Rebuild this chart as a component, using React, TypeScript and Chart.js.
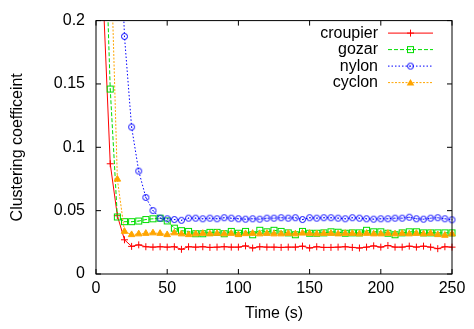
import React, { useEffect, useRef } from 'react';
import { Chart, registerables } from 'chart.js';

Chart.register(...registerables);

// ---- data ----
const timeSec = [
  0, 5, 10, 15, 20, 25, 30, 35, 40, 45, 50, 55, 60, 65, 70, 75, 80, 85, 90, 95,
  100, 105, 110, 115, 120, 125, 130, 135, 140, 145, 150, 155, 160, 165, 170, 175, 180, 185, 190, 195,
  200, 205, 210, 215, 220, 225, 230, 235, 240, 245, 250,
];

const croupier = [
  0.6, 0.22, 0.087, 0.046, 0.027, 0.0218, 0.023, 0.0215, 0.0212, 0.0215, 0.0212, 0.0215, 0.0195, 0.0215, 0.0212, 0.0215, 0.021, 0.0212, 0.0215, 0.0212,
  0.0212, 0.0222, 0.0205, 0.0215, 0.0212, 0.0212, 0.021, 0.0212, 0.0212, 0.022, 0.0205, 0.0215, 0.021, 0.021, 0.0212, 0.0215, 0.021, 0.0205, 0.0212, 0.0222,
  0.0212, 0.0225, 0.0212, 0.0212, 0.022, 0.0212, 0.022, 0.0212, 0.02, 0.0215, 0.0212,
];

const gozar = [
  0.8, 0.32, 0.146, 0.045, 0.0413, 0.0413, 0.0418, 0.043, 0.0436, 0.0441, 0.0419, 0.0362, 0.0342, 0.0336, 0.0318, 0.0318, 0.0329, 0.0329, 0.0318, 0.0336,
  0.0322, 0.0336, 0.031, 0.0345, 0.0333, 0.0345, 0.0336, 0.0325, 0.031, 0.0336, 0.0322, 0.0322, 0.0325, 0.0333, 0.033, 0.0322, 0.0325, 0.0325, 0.0345, 0.0333,
  0.0333, 0.0322, 0.031, 0.0325, 0.0333, 0.0333, 0.0325, 0.0325, 0.0325, 0.0325, 0.0325,
];

const nylon = [
  1.0, 0.8, 0.6, 0.334, 0.1875, 0.116, 0.0812, 0.0604, 0.0501, 0.0441, 0.0436, 0.043, 0.0424, 0.0441, 0.0441, 0.0436, 0.0441, 0.0436, 0.0444, 0.0441,
  0.0436, 0.0433, 0.0436, 0.0433, 0.0441, 0.0441, 0.0444, 0.0441, 0.0444, 0.043, 0.0444, 0.0441, 0.0444, 0.0444, 0.0441, 0.0436, 0.0444, 0.0441, 0.0436, 0.0433,
  0.0436, 0.0436, 0.0441, 0.0441, 0.0448, 0.0436, 0.0433, 0.0441, 0.0444, 0.0436, 0.0428,
];

const cyclon = [
  0.9, 0.5, 0.27, 0.0748, 0.0336, 0.031, 0.0316, 0.032, 0.0324, 0.032, 0.031, 0.0324, 0.0316, 0.031, 0.0316, 0.032, 0.0316, 0.032, 0.0316, 0.032,
  0.031, 0.0318, 0.032, 0.0316, 0.032, 0.0316, 0.0316, 0.032, 0.0316, 0.0322, 0.032, 0.0316, 0.032, 0.032, 0.0316, 0.032, 0.032, 0.0316, 0.032, 0.0316,
  0.0316, 0.032, 0.0316, 0.032, 0.0316, 0.032, 0.0316, 0.032, 0.031, 0.0305, 0.0316,
];

const seriesNames = ['croupier', 'gozar', 'nylon', 'cyclon'];
const xTicks = [0, 50, 100, 150, 200, 250];
const xTickLabels = ['0', '50', '100', '150', '200', '250'];
const yTicks = [0, 0.05, 0.1, 0.15, 0.2];
const yTickLabels = ['0', '0.05', '0.1', '0.15', '0.2'];
const xTitle = 'Time (s)';
const yTitle = 'Clustering coefficeint';

// ---- styles ----
const FONT = "'Liberation Sans', Arial, Helvetica, sans-serif";
const FONT_SIZE = 16;
const colors = ['#ff0000', '#00dd00', '#0000ff', '#ffa500'];
const dashes: number[][] = [[], [4, 2], [1.5, 2], [2, 1.5]];
const CLIP = { left: 0, top: 0, right: 6, bottom: 0 };

function makeMarker(kind: string, color: string): HTMLCanvasElement {
  const c = document.createElement('canvas');
  c.width = 9;
  c.height = 9;
  const g = c.getContext('2d')!;
  g.strokeStyle = color;
  g.fillStyle = color;
  g.lineWidth = 1;
  if (kind === 'circle') {
    g.beginPath();
    g.arc(4.5, 4.5, 3, 0, Math.PI * 2);
    g.stroke();
    g.fillRect(4, 4, 1, 1);
  } else if (kind === 'square') {
    g.strokeRect(1.5, 1.5, 6, 6);
    g.fillRect(4, 4, 1, 1);
  }
  return c;
}

function drawLegendMarker(ctx: CanvasRenderingContext2D, i: number, x: number, y: number, img: any) {
  const color = colors[i];
  ctx.save();
  ctx.setLineDash([]);
  ctx.strokeStyle = color;
  ctx.fillStyle = color;
  ctx.lineWidth = 1;
  if (i === 0) {
    ctx.beginPath();
    ctx.moveTo(x - 3.5, y);
    ctx.lineTo(x + 3.5, y);
    ctx.moveTo(x, y - 3.5);
    ctx.lineTo(x, y + 3.5);
    ctx.stroke();
  } else if (i === 3) {
    ctx.beginPath();
    ctx.moveTo(x, y - 3.5);
    ctx.lineTo(x + 3.8, y + 2.8);
    ctx.lineTo(x - 3.8, y + 2.8);
    ctx.closePath();
    ctx.fill();
  } else if (img) {
    ctx.drawImage(img, x - img.width / 2, y - img.height / 2);
  }
  ctx.restore();
}

export default function App() {
  const canvasRef = useRef<HTMLCanvasElement | null>(null);

  useEffect(() => {
    const canvas = canvasRef.current;
    if (!canvas) return;
    const squareImg = makeMarker('square', colors[1]);
    const circleImg = makeMarker('circle', colors[2]);
    const markerImgs: any[] = [null, squareImg, circleImg, null];

    const allSeries = [croupier, gozar, nylon, cyclon];
    const pointStyles: any[] = ['cross', squareImg, circleImg, 'triangle'];
    const radii = [3.5, 4, 4, 3.8];

    const datasets = allSeries.map((vals, i) => ({
      label: seriesNames[i],
      data: timeSec.map((t, k) => ({ x: t, y: vals[k] })),
      borderColor: colors[i],
      backgroundColor: colors[i],
      borderWidth: 1,
      borderDash: dashes[i],
      pointStyle: pointStyles[i],
      pointRadius: radii[i],
      pointBorderWidth: 1,
      pointBorderColor: colors[i],
      pointBackgroundColor: colors[i],
      fill: false,
      tension: 0,
      clip: CLIP,
      order: 4 - i,
    }));

    const framePlugin = {
      id: 'gnuFrame',
      afterDatasetsDraw(chart: any) {
        const { ctx, chartArea: a, scales } = chart;
        ctx.save();
        ctx.setLineDash([]);
        ctx.strokeStyle = '#000';
        ctx.lineWidth = 1;
        ctx.strokeRect(a.left, a.top, a.right - a.left, a.bottom - a.top);
        const L = 5;
        ctx.beginPath();
        xTicks.forEach((v) => {
          const p = scales.x.getPixelForValue(v);
          ctx.moveTo(p, a.bottom);
          ctx.lineTo(p, a.bottom - L);
          ctx.moveTo(p, a.top);
          ctx.lineTo(p, a.top + L);
        });
        yTicks.forEach((v) => {
          const p = scales.y.getPixelForValue(v);
          ctx.moveTo(a.left, p);
          ctx.lineTo(a.left + L, p);
          ctx.moveTo(a.right, p);
          ctx.lineTo(a.right - L, p);
        });
        ctx.stroke();

        // legend (gnuplot style, top-right inside)
        ctx.font = `${FONT_SIZE}px ${FONT}`;
        ctx.textAlign = 'right';
        ctx.textBaseline = 'middle';
        chart.data.datasets.forEach((ds: any, i: number) => {
          const y = a.top + 12.5 + i * 16.5;
          const textRight = a.right - 74;
          ctx.fillStyle = '#000';
          ctx.fillText(ds.label, textRight, y);
          const x0 = a.right - 64;
          const x1 = a.right - 19;
          ctx.save();
          ctx.strokeStyle = colors[i];
          ctx.lineWidth = 1;
          ctx.setLineDash(dashes[i]);
          ctx.beginPath();
          ctx.moveTo(x0, y);
          ctx.lineTo(x1, y);
          ctx.stroke();
          ctx.restore();
          drawLegendMarker(ctx, i, (x0 + x1) / 2, y, markerImgs[i]);
        });
        ctx.restore();
      },
    };

    const chart = new Chart(canvas, {
      type: 'line',
      data: { datasets: datasets as any },
      options: {
        animation: false,
        responsive: false,
        devicePixelRatio: 1,
        events: [],
        layout: { padding: { top: 15, right: 22, left: 0, bottom: 0 } },
        plugins: {
          legend: { display: false },
          tooltip: { enabled: false },
        },
        scales: {
          x: {
            type: 'linear',
            min: 0,
            max: 250,
            grid: { display: false, drawTicks: false },
            border: { display: false },
            afterBuildTicks: (scale: any) => {
              scale.ticks = xTicks.map((v) => ({ value: v }));
            },
            afterFit: (scale: any) => {
              scale.height = 55;
            },
            ticks: {
              padding: 5,
              color: '#000',
              maxRotation: 0,
              autoSkip: false,
              font: { family: FONT, size: FONT_SIZE },
              callback: (_v: any, idx: number) => xTickLabels[idx],
            },
            title: {
              display: true,
              text: xTitle,
              color: '#000',
              font: { family: FONT, size: FONT_SIZE },
              padding: { top: 0, bottom: 6 },
            },
          },
          y: {
            type: 'linear',
            min: 0,
            max: 0.2,
            grid: { display: false, drawTicks: false },
            border: { display: false },
            afterBuildTicks: (scale: any) => {
              scale.ticks = yTicks.map((v) => ({ value: v }));
            },
            afterFit: (scale: any) => {
              scale.width = 96;
            },
            ticks: {
              padding: 11,
              color: '#000',
              autoSkip: false,
              font: { family: FONT, size: FONT_SIZE },
              callback: (_v: any, idx: number) => yTickLabels[idx],
            },
            title: {
              display: true,
              text: yTitle,
              color: '#000',
              font: { family: FONT, size: FONT_SIZE },
              padding: { top: 8, bottom: 0 },
            },
          },
        },
      } as any,
      plugins: [framePlugin],
    });

    return () => chart.destroy();
  }, []);

  return (
    <div style={{ position: 'absolute', left: 0, top: 0, width: 474, height: 329, background: '#fff' }}>
      <canvas ref={canvasRef} width={474} height={329} style={{ display: 'block' }} />
    </div>
  );
}
